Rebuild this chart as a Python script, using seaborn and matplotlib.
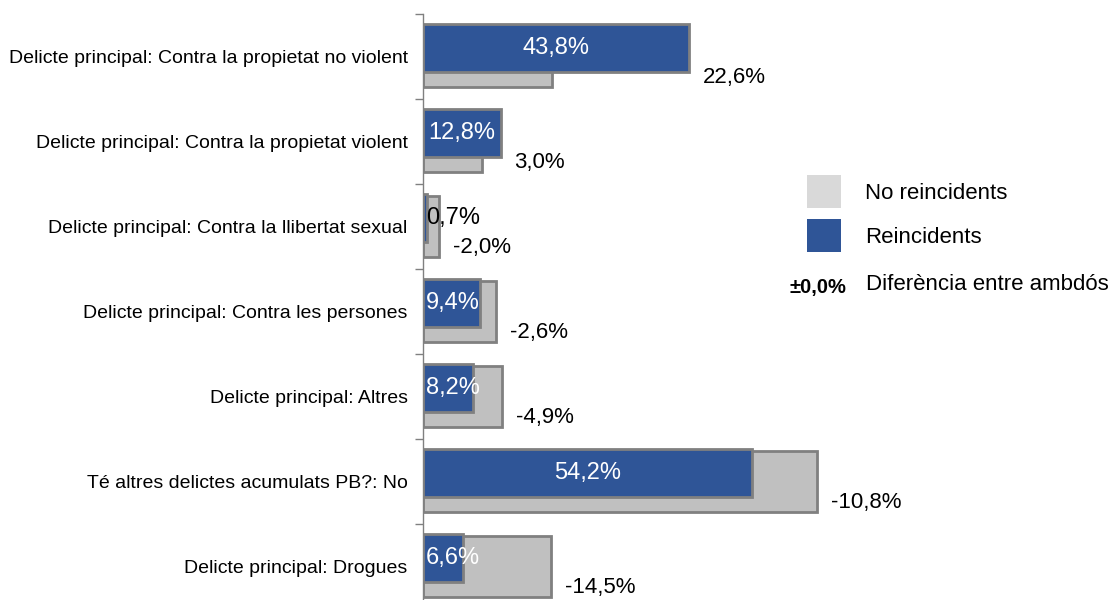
import numpy as np
import pandas as pd
import seaborn as sns
import matplotlib.pyplot as plt
from matplotlib.patches import Patch

# Data
categories = [
    'Delicte principal: Contra la propietat no violent',
    'Delicte principal: Contra la propietat violent',
    'Delicte principal: Contra la llibertat sexual',
    'Delicte principal: Contra les persones',
    'Delicte principal: Altres',
    'Té altres delictes acumulats PB?: No',
    'Delicte principal: Drogues',
]
reincidents = [43.8, 12.8, 0.7, 9.4, 8.2, 54.2, 6.6]
no_reincidents = [21.2, 9.8, 2.7, 12.0, 13.1, 65.0, 21.1]
diferencia = [22.6, 3.0, -2.0, -2.6, -4.9, -10.8, -14.5]

df = pd.DataFrame({'cat': categories, 'reinc': reincidents,
                   'noreinc': no_reincidents, 'dif': diferencia})

BLUE = '#2F5597'
GRAY = '#C0C0C0'
EDGE = '#808080'

sns.set_style('white')
plt.rcParams['font.family'] = ['Liberation Sans', 'DejaVu Sans']
plt.rcParams['text.color'] = 'black'
plt.rcParams['ytick.color'] = 'black'

fig = plt.figure(figsize=(11.13, 6), dpi=100)
ax = fig.add_axes([0.38, -0.015, 0.545, 0.992])

# gray (no reincidents) behind
sns.barplot(data=df, x='noreinc', y='cat', orient='h', color=GRAY, saturation=1,
            width=0.72, edgecolor=EDGE, linewidth=2, ax=ax)
n_gray = len(ax.patches)
# blue (reincidents) in front, shifted a bit upward
sns.barplot(data=df, x='reinc', y='cat', orient='h', color=BLUE, saturation=1,
            width=0.56, edgecolor=EDGE, linewidth=2, ax=ax)
for p in ax.patches[n_gray:]:
    p.set_y(p.get_y() - 0.1)

def fmt(v):
    return f'{v:.1f}%'.replace('.', ',')

for i, row in df.iterrows():
    # value inside the blue bar
    tx = max(row['reinc'] / 2, 5.0)
    col = 'white' if row['reinc'] >= 2 else 'black'
    ax.text(tx, i - 0.1, fmt(row['reinc']), ha='center', va='center',
            color=col, fontsize=17)
    # difference label
    ax.text(max(row['reinc'], row['noreinc']) + 2.3, i + 0.25, fmt(row['dif']),
            ha='left', va='center', color='black', fontsize=16)

ax.set_xlim(0, 100)
ax.set_ylim(6.5, -0.5)
ax.set_xticks([])
ax.set_xlabel('')
ax.set_ylabel('')
ax.set_yticks(np.arange(-0.5, 7, 1), minor=True)
ax.tick_params(axis='y', which='major', length=0, pad=11, labelsize=14, labelcolor='black')
ax.tick_params(axis='y', which='minor', length=6, width=1, color=EDGE, direction='out', left=True)
for s in ['top', 'right', 'bottom']:
    ax.spines[s].set_visible(False)
ax.spines['left'].set_color(EDGE)
ax.spines['left'].set_linewidth(1)

handles = [Patch(facecolor='#D9D9D9', edgecolor='none'),
           Patch(facecolor=BLUE, edgecolor='none')]
leg = ax.legend(handles, ['No reincidents', 'Reincidents'], loc='upper left',
                bbox_to_anchor=(807 / 1113, 1 - 175 / 600), bbox_transform=fig.transFigure,
                frameon=False, fontsize=16, borderpad=0, borderaxespad=0,
                handlelength=1.53, handleheight=1.9, handletextpad=1.1, labelspacing=0.5)
for t in leg.get_texts():
    t.set_color('black')
fig.text(818 / 1113, 1 - 288 / 600, '±0,0%', ha='center', va='center',
         fontsize=14.5, fontweight='bold')
fig.text(866 / 1113, 1 - 285 / 600, 'Diferència entre ambdós', ha='left', va='center',
         fontsize=16)

fig.savefig('out.png', dpi=100)
